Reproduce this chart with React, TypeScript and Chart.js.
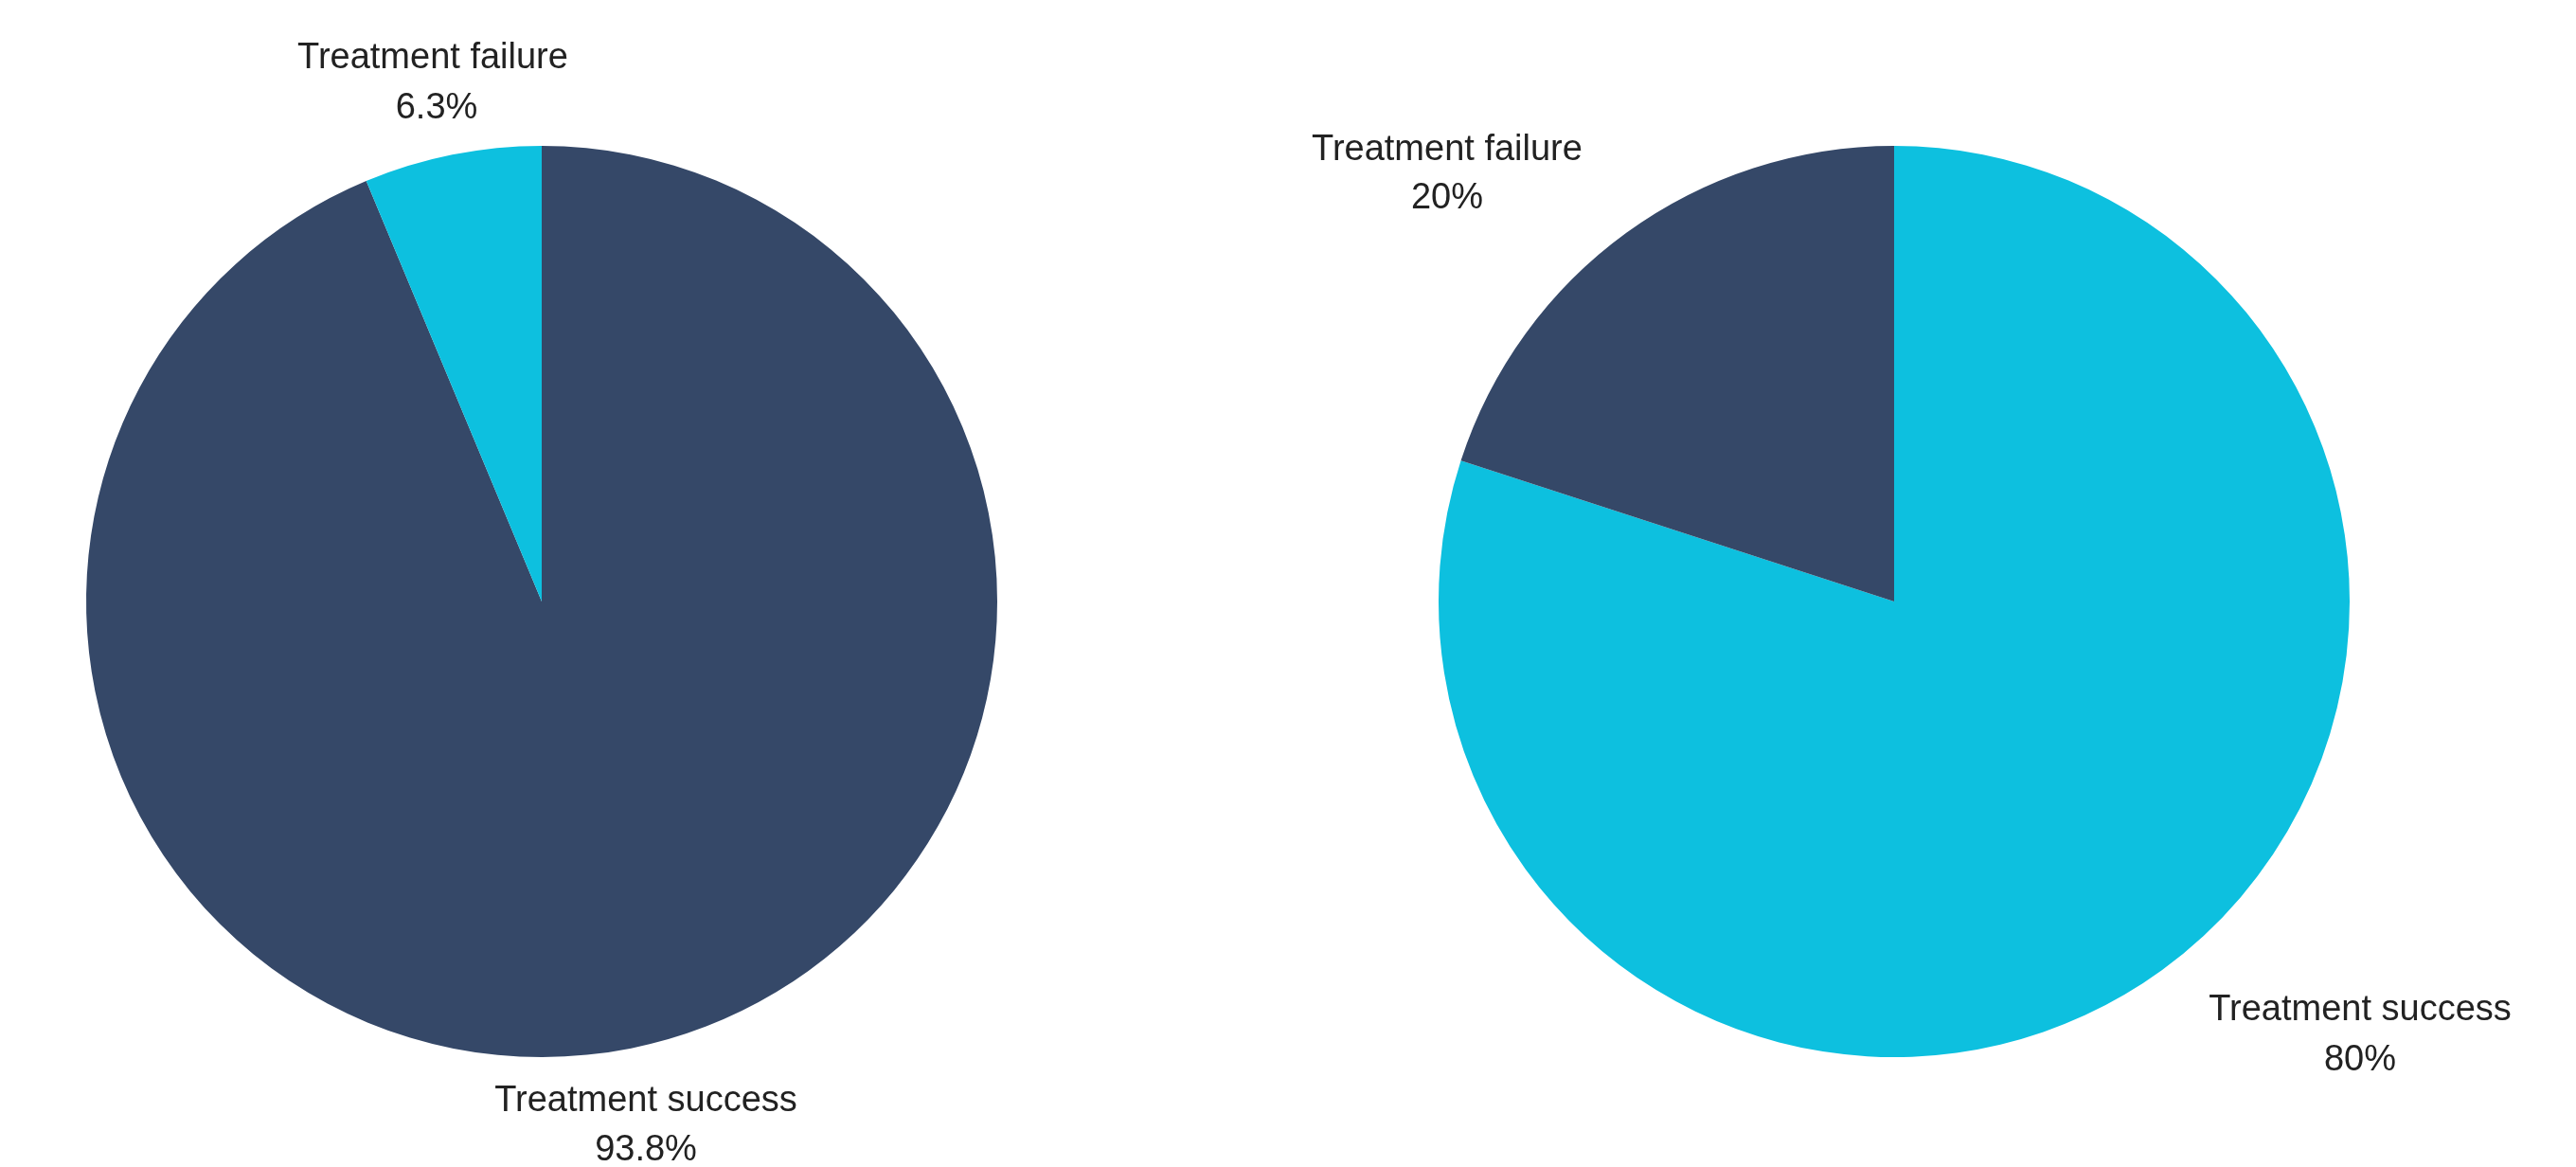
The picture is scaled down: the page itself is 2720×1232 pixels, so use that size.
import React, { useEffect, useRef } from "react";
import { Chart, registerables } from "chart.js";

Chart.register(...registerables);

const categories = ["Treatment success", "Treatment failure"];
const leftValues = [93.8, 6.3];
const rightValues = [80, 20];
const leftLabels = ["93.8%", "6.3%"];
const rightLabels = ["80%", "20%"];
const leftColors = ["#354868", "#0DC0DF"];
const rightColors = ["#0DC0DF", "#354868"];

type LabelPos = { dx1: number; dx2: number; dy1: number; dy2: number };

// label offsets relative to pie centre (pixels)
const leftLabelPos: LabelPos[] = [
  { dx1: 110, dx2: 110, dy1: 538, dy2: 590 },
  { dx1: -115, dx2: -111, dy1: -563, dy2: -510 },
];
const rightLabelPos: LabelPos[] = [
  { dx1: 492, dx2: 492, dy1: 442, dy2: 495 },
  { dx1: -472, dx2: -472, dy1: -466, dy2: -415 },
];

function makeLabelPlugin(pos: LabelPos[], pct: string[]) {
  return {
    id: "sliceLabels",
    afterDraw(chart: any) {
      const meta = chart.getDatasetMeta(0);
      const arc = meta.data[0];
      if (!arc) return;
      const cx = arc.x;
      const cy = arc.y;
      const ctx = chart.ctx;
      ctx.save();
      ctx.fillStyle = "#222222";
      ctx.font = '38px "Liberation Sans", Arial, sans-serif';
      ctx.textAlign = "center";
      ctx.textBaseline = "alphabetic";
      categories.forEach((name, i) => {
        const p = pos[i];
        ctx.fillText(name, cx + p.dx1, cy + p.dy1);
        ctx.fillText(pct[i], cx + p.dx2, cy + p.dy2);
      });
      ctx.restore();
    },
  };
}

function PieCanvas(props: {
  values: number[];
  colors: string[];
  pct: string[];
  pos: LabelPos[];
  padding: { left: number; right: number; top: number; bottom: number };
}) {
  const ref = useRef<HTMLCanvasElement | null>(null);
  useEffect(() => {
    if (!ref.current) return;
    const chart = new Chart(ref.current, {
      type: "pie",
      data: {
        labels: categories,
        datasets: [
          {
            data: props.values,
            backgroundColor: props.colors,
            borderWidth: 0,
          },
        ],
      },
      options: {
        responsive: false,
        animation: false,
        devicePixelRatio: 1,
        layout: { padding: props.padding },
        plugins: {
          legend: { display: false },
          tooltip: { enabled: false },
        },
      },
      plugins: [makeLabelPlugin(props.pos, props.pct)],
    });
    return () => chart.destroy();
  }, []);
  return <canvas ref={ref} width={1360} height={1232} style={{ display: "block" }} />;
}

export default function App() {
  return (
    <div
      style={{
        position: "absolute",
        left: 0,
        top: 0,
        width: 2720,
        height: 1232,
        background: "#ffffff",
        display: "flex",
      }}
    >
      <PieCanvas
        values={leftValues}
        colors={leftColors}
        pct={leftLabels}
        pos={leftLabelPos}
        padding={{ left: 91, right: 307, top: 154, bottom: 116 }}
      />
      <PieCanvas
        values={rightValues}
        colors={rightColors}
        pct={rightLabels}
        pos={rightLabelPos}
        padding={{ left: 159, right: 239, top: 154, bottom: 116 }}
      />
    </div>
  );
}
